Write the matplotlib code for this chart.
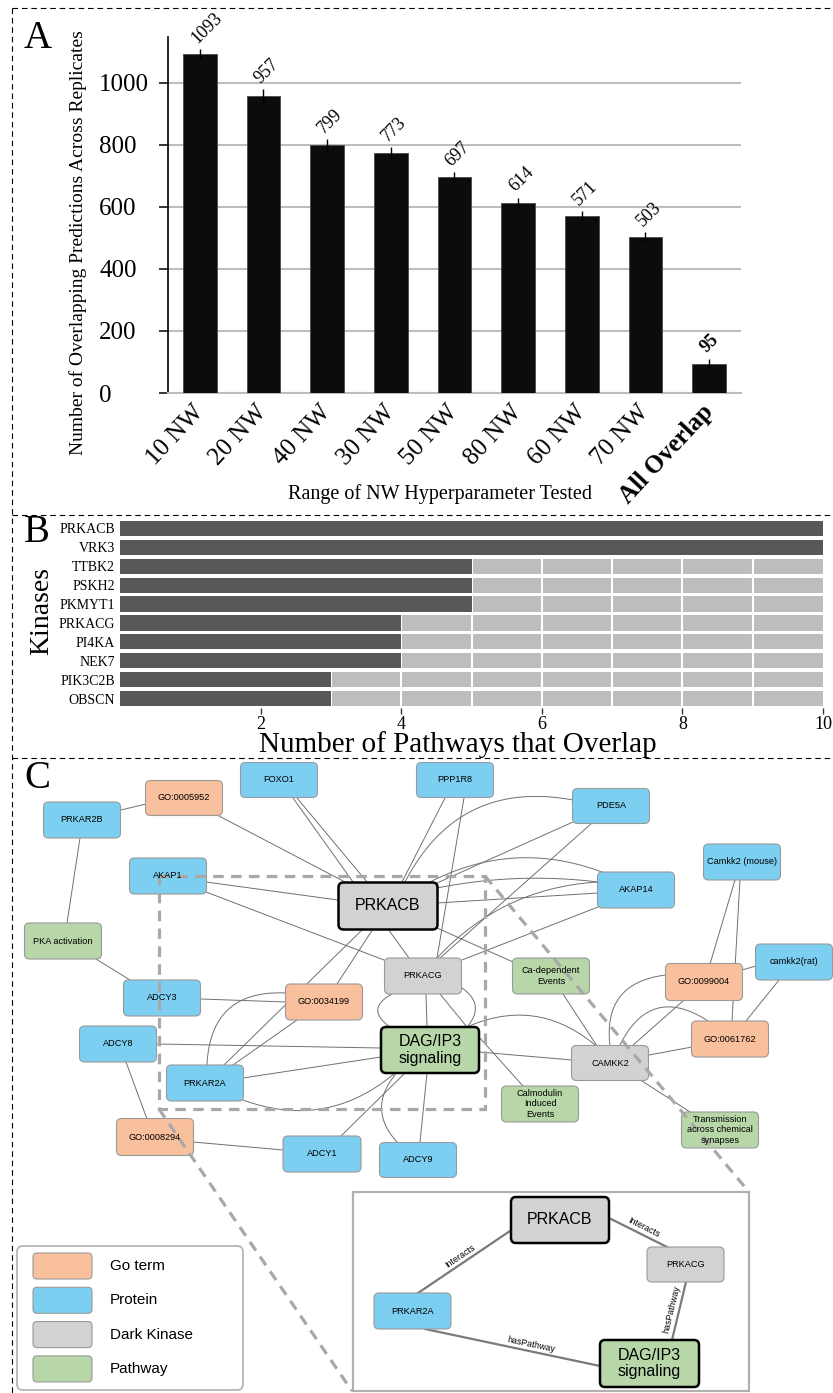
import numpy as np
import matplotlib
matplotlib.use("Agg")
import matplotlib.pyplot as plt
from matplotlib.patches import FancyBboxPatch, Rectangle

# ---------------------------------------------------------------- data
nw_ranges = ["10 NW", "20 NW", "40 NW", "30 NW", "50 NW", "80 NW", "60 NW", "70 NW", "All Overlap"]
overlap_counts = [1093, 957, 799, 773, 697, 614, 571, 503, 95]
overlap_errors = [16, 22, 19, 19, 16, 16, 16, 16, 16]
count_ticks = [0, 200, 400, 600, 800, 1000]

kinases = ["PRKACB", "VRK3", "TTBK2", "PSKH2", "PKMYT1", "PRKACG", "PI4KA", "NEK7", "PIK3C2B", "OBSCN"]
pathways_overlap = [10, 10, 5, 5, 5, 4, 4, 4, 3, 3]
max_pathways = 10
pathway_ticks = [2, 4, 6, 8, 10]

node_names = ["GO:0005952", "FOXO1", "PPP1R8", "PRKAR2B", "PDE5A", "AKAP1", "PRKACB",
              "Camkk2 (mouse)", "AKAP14", "PKA activation", "PRKACG", "Ca-dependent\nEvents",
              "camkk2(rat)", "GO:0099004", "ADCY3", "GO:0034199", "ADCY8", "DAG/IP3\nsignaling",
              "GO:0061762", "CAMKK2", "PRKAR2A", "Calmodulin\nInduced\nEvents",
              "Transmission\nacross chemical\nsynapses", "GO:0008294", "ADCY1", "ADCY9"]
node_kinds = ["go", "protein", "protein", "protein", "protein", "protein", "dark",
              "protein", "protein", "pathway", "dark", "pathway",
              "protein", "go", "protein", "go", "protein", "pathway",
              "go", "dark", "protein", "pathway",
              "pathway", "go", "protein", "protein"]
highlighted = ["PRKACB", "DAG/IP3\nsignaling"]

edges = [("PRKAR2B", "GO:0005952"), ("PRKAR2B", "PKA activation"), ("PKA activation", "ADCY3"),
         ("GO:0005952", "PRKACB"), ("FOXO1", "PRKACB"), ("FOXO1", "PRKACB"),
         ("PPP1R8", "PRKACB"), ("PPP1R8", "PRKACG"), ("PDE5A", "PRKACB"), ("PDE5A", "PRKACB"),
         ("PDE5A", "PRKACG"), ("AKAP14", "PRKACB"), ("AKAP14", "PRKACG"), ("AKAP14", "PRKACB"),
         ("AKAP14", "PRKACG"), ("AKAP1", "PRKACB"), ("AKAP1", "PRKACG"), ("PRKACB", "PRKAR2A"),
         ("PRKACB", "GO:0034199"), ("GO:0034199", "PRKAR2A"), ("GO:0034199", "PRKAR2A"),
         ("ADCY3", "GO:0034199"), ("PRKACB", "PRKACG"), ("PRKACB", "Ca-dependent\nEvents"),
         ("PRKACG", "DAG/IP3\nsignaling"), ("PRKACG", "DAG/IP3\nsignaling"),
         ("PRKACG", "DAG/IP3\nsignaling"), ("PRKACG", "DAG/IP3\nsignaling"),
         ("ADCY8", "DAG/IP3\nsignaling"), ("ADCY8", "GO:0008294"),
         ("PRKAR2A", "DAG/IP3\nsignaling"), ("PRKAR2A", "DAG/IP3\nsignaling"),
         ("DAG/IP3\nsignaling", "ADCY1"), ("DAG/IP3\nsignaling", "ADCY9"),
         ("DAG/IP3\nsignaling", "ADCY9"), ("GO:0008294", "ADCY1"),
         ("DAG/IP3\nsignaling", "CAMKK2"), ("DAG/IP3\nsignaling", "Calmodulin\nInduced\nEvents"),
         ("DAG/IP3\nsignaling", "CAMKK2"), ("Ca-dependent\nEvents", "CAMKK2"),
         ("CAMKK2", "GO:0099004"), ("CAMKK2", "GO:0099004"), ("CAMKK2", "GO:0061762"),
         ("CAMKK2", "GO:0061762"), ("CAMKK2", "Transmission\nacross chemical\nsynapses"),
         ("Camkk2 (mouse)", "GO:0099004"), ("Camkk2 (mouse)", "GO:0061762"),
         ("camkk2(rat)", "GO:0099004"), ("camkk2(rat)", "GO:0061762"), ("PRKACB", "AKAP14")]

inset_names = ["PRKACB", "PRKACG", "PRKAR2A", "DAG/IP3\nsignaling"]
inset_kinds = ["dark", "dark", "protein", "pathway"]
inset_edges = [("PRKAR2A", "PRKACB", "Interacts"), ("PRKACB", "PRKACG", "Interacts"),
               ("PRKACG", "DAG/IP3\nsignaling", "hasPathway"),
               ("PRKAR2A", "DAG/IP3\nsignaling", "hasPathway")]

legend_labels = ["Go term", "Protein", "Dark Kinase", "Pathway"]
legend_kinds = ["go", "protein", "dark", "pathway"]

# ---------------------------------------------------------------- styling / layout
kind_colors = {"go": "#f9c09e", "protein": "#7dcff2", "dark": "#d1d2d4", "pathway": "#b7d7a9"}
SERIF = "Liberation Serif"
SANS = "Liberation Sans"
plt.rcParams["font.family"] = [SERIF, "DejaVu Serif"]

W, H = 833, 1393

# node boxes: centre x, centre y, width, height (pixels)
node_layout = {
    "GO:0005952": (184, 798, 77, 35), "FOXO1": (279, 780, 77, 35), "PPP1R8": (455, 780, 77, 35),
    "PRKAR2B": (82, 820, 77, 36), "PDE5A": (611, 806, 77, 35), "AKAP1": (168, 876, 77, 36),
    "PRKACB": (388, 906, 99, 47), "Camkk2 (mouse)": (742, 862, 77, 36), "AKAP14": (636, 890, 77, 36),
    "PKA activation": (63, 941, 77, 36), "PRKACG": (423, 976, 77, 36),
    "Ca-dependent\nEvents": (551, 976, 77, 36), "camkk2(rat)": (794, 962, 77, 36),
    "GO:0099004": (704, 982, 77, 37), "ADCY3": (162, 998, 77, 36), "GO:0034199": (324, 1002, 77, 36),
    "ADCY8": (118, 1044, 77, 36), "DAG/IP3\nsignaling": (430, 1050, 98, 46),
    "GO:0061762": (730, 1039, 77, 36), "CAMKK2": (610, 1063, 77, 35), "PRKAR2A": (205, 1083, 77, 36),
    "Calmodulin\nInduced\nEvents": (540, 1104, 77, 36),
    "Transmission\nacross chemical\nsynapses": (720, 1130, 77, 36),
    "GO:0008294": (155, 1137, 77, 37), "ADCY1": (322, 1154, 78, 36), "ADCY9": (418, 1160, 77, 35),
}
# per-edge attachment offsets from each node centre and arc bend
edge_geometry = [
    (39, -10, -38, 6, 0), (-2, 18, 4, -18, 0), (33, 18, -32, -18, 0),
    (35, 18, -43, -24, 0), (14, 18, -35, -24, 0), (18, 18, -21, -24, 0),
    (-10, 18, 14, -24, 0), (9, 18, 14, -18, 0), (-38, -6, 17, -24, 0.37), (-38, 16, 49, -23, 0),
    (-19, 17, 17, -18, 0), (-34, -18, 42, -24, 0.22), (-38, -8, 14, -18, 0.2), (-38, 3, 49, -3, 0),
    (-38, 17, 39, -16, 0), (38, 6, -50, -6, 0), (38, 16, -39, -16, 0), (-25, 23, 19, -18, 0),
    (-15, 23, 13, -18, 0), (-27, 18, 28, -18, 0), (-38, -9, 2, -18, 0.5),
    (39, 1, -38, 0, 0), (0, 23, -14, -18, 0), (49, 22, -38, -14, 0),
    (3, 18, -3, -23, 0), (17, 18, 37, -23, 0),
    (-31, 18, -40, -23, 0.8), (39, 12, 37, -23, -0.55),
    (39, 0, -49, -2, 0), (8, 18, -8, -18, 0),
    (38, -5, -49, 7, 0), (38, 17, -35, 23, 0.29),
    (-25, 23, 19, -18, 0), (-3, 23, 2, -18, 0),
    (-35, 25, -21, -18, 0.43), (38, 5, -39, -4, 0),
    (49, 2, -38, -3, 0), (49, -13, -17, -18, 0),
    (37, -23, -15, -18, -0.31), (12, 18, -13, -17, 0),
    (22, -17, -21, 19, 0), (0, -17, -38, -7, -0.5), (39, -8, -38, 8, 0),
    (10, -18, -22, -18, -0.56), (32, 18, -30, -18, 0),
    (-7, 18, 6, -18, 0), (-2, 18, 2, -18, 0),
    (-38, 4, 38, -12, 0), (-15, 18, 16, -18, 0), (49, -18, -38, -8, -0.08),
]
inset_layout = {"PRKACB": (560, 1220, 98, 46), "PRKACG": (685.5, 1264.5, 77, 35),
                "PRKAR2A": (412.5, 1311, 77, 36), "DAG/IP3\nsignaling": (649.5, 1363.5, 99, 47)}
inset_geometry = [(5.5, -18, -50, 11, 0.5), (49, -2, -18.5, -17.5, 0.55),
                  (0.5, 17.5, 22.5, -23.5, 0.5), (12.5, 18, -49.5, 2.5, 0.6)]

fig = plt.figure(figsize=(W / 100, H / 100), dpi=100)
canvas = fig.add_axes([0, 0, 1, 1])
canvas.set_xlim(0, W)
canvas.set_ylim(H, 0)
canvas.axis("off")


def frac_box(x0, y0, x1, y1):
    return [x0 / W, 1 - y1 / H, (x1 - x0) / W, (y1 - y0) / H]


# dashed panel frames
frame_kw = dict(color="black", lw=0.8, ls=(0, (5, 3.5)), zorder=1)
canvas.plot([12, W], [8, 8], **frame_kw)
canvas.plot([12, 12], [8, H], **frame_kw)
canvas.plot([12, W], [515, 515], **frame_kw)
canvas.plot([12, W], [758, 758], **frame_kw)

# ---------------------------------------------------------------- panel A
axA = fig.add_axes(frac_box(168, 37, 741, 393))
axA.set_facecolor("none")
xs = np.arange(len(nw_ranges))
axA.bar(xs, overlap_counts, width=0.53, color="#0b0c0b", edgecolor="#4a4a4a", linewidth=0.6,
        yerr=overlap_errors, error_kw=dict(ecolor="black", elinewidth=1.0, capsize=0), zorder=3)
axA.set_xlim(-0.5, len(xs) - 0.5)
axA.set_ylim(0, 1148)
axA.set_yticks(count_ticks)
axA.yaxis.grid(True, color="#bdbdbd", lw=1.5)
axA.set_axisbelow(True)
for s in ("top", "right"):
    axA.spines[s].set_visible(False)
axA.spines["left"].set_color("black")
axA.spines["left"].set_linewidth(1.2)
axA.spines["bottom"].set_color("#bdbdbd")
axA.spines["bottom"].set_linewidth(1.5)
# tick numbers are left-aligned in a column left of the axis
axA.tick_params(axis="y", length=6.5, width=1.1, pad=43, labelsize=18)
for lbl in axA.get_yticklabels():
    lbl.set_horizontalalignment("left")
axA.tick_params(axis="x", length=0, pad=11, labelsize=18)
axA.set_xticks(xs)
axA.set_xticklabels(nw_ranges, rotation=47, ha="right", va="center", rotation_mode="anchor")
axA.get_xticklabels()[-1].set_fontweight("bold")
for xi, v, e in zip(xs, overlap_counts, overlap_errors):
    axA.text(xi, v + e + 8, str(v), rotation=45, rotation_mode="anchor", ha="left", va="bottom",
             fontsize=13, fontweight="bold" if xi == len(xs) - 1 else "normal")

canvas.text(38, 38, "A", fontsize=28, ha="center", va="center")
canvas.text(78, 243, "Number of Overlapping Predictions Across Replicates", rotation=90,
            fontsize=14, ha="center", va="center")
canvas.text(440, 494, "Range of NW Hyperparameter Tested", fontsize=14.5, ha="center", va="center")

# ---------------------------------------------------------------- panel B
axB = fig.add_axes(frac_box(120, 519, 823, 708))
axB.set_facecolor("none")
rows = np.arange(len(kinases))
remaining = [max_pathways - v for v in pathways_overlap]
axB.barh(rows, remaining, left=pathways_overlap, height=0.8, color="#bdbdbf", zorder=1)
for k in range(1, max_pathways):
    axB.axvline(k, color="white", lw=1.5, zorder=2)
axB.barh(rows, pathways_overlap, height=0.8, color="#58585a", zorder=3)
axB.set_xlim(0, max_pathways)
axB.set_ylim(len(kinases) - 0.5, -0.5)
axB.set_yticks(rows)
axB.set_yticklabels(kinases, fontsize=10)
axB.set_xticks(pathway_ticks)
axB.tick_params(axis="y", length=0, pad=3.5)
axB.tick_params(axis="x", length=4, width=1, pad=2, labelsize=13, color="#333333")
for s in axB.spines.values():
    s.set_visible(False)

canvas.text(37, 533, "B", fontsize=28, ha="center", va="center")
canvas.text(42, 611, "Kinases", rotation=90, fontsize=20, ha="center", va="center")
canvas.text(458, 745, "Number of Pathways that Overlap", fontsize=21, ha="center", va="center")

# ---------------------------------------------------------------- panel C
canvas.text(37, 778, "C", fontsize=28, ha="center", va="center")


def curve(p0, p1, rad, n=60):
    p0 = np.asarray(p0, float)
    p1 = np.asarray(p1, float)
    d = p1 - p0
    ctrl = (p0 + p1) / 2 + rad * np.array([-d[1], d[0]])
    t = np.linspace(0, 1, n)[:, None]
    return (1 - t) ** 2 * p0 + 2 * (1 - t) * t * ctrl + t ** 2 * p1


def draw_node(name, kind, cx, cy, w, h, big):
    canvas.add_patch(FancyBboxPatch((cx - w / 2, cy - h / 2), w, h,
                                    boxstyle="round,pad=0,rounding_size=5",
                                    fc=kind_colors[kind], ec="black" if big else "#9a9a9a",
                                    lw=1.8 if big else 0.8, zorder=3))
    canvas.text(cx, cy, name, ha="center", va="center", family=SANS,
                fontsize=11.5 if big else 6.6, linespacing=1.15 if not big else 1.1, zorder=6)


for (a, b), (dxa, dya, dxb, dyb, rad) in zip(edges, edge_geometry):
    ax_, ay_ = node_layout[a][:2]
    bx_, by_ = node_layout[b][:2]
    pts = curve((ax_ + dxa, ay_ + dya), (bx_ + dxb, by_ + dyb), rad)
    canvas.plot(pts[:, 0], pts[:, 1], color="#707070", lw=0.7, zorder=2)

for name, kind in zip(node_names, node_kinds):
    cx, cy, w, h = node_layout[name]
    draw_node(name, kind, cx, cy, w, h, name in highlighted)

# zoom guides
guide_kw = dict(color="#a8a8a8", lw=2.3, ls=(0, (3.3, 2.3)), zorder=5)
canvas.add_patch(Rectangle((159, 876), 326, 233, fill=False, ec="#a8a8a8", lw=2.3,
                           ls=(0, (3.3, 2.3)), zorder=5))
canvas.plot([159, 352], [1109, 1391], **guide_kw)
canvas.plot([485, 749], [876, 1192], **guide_kw)

# inset
canvas.add_patch(Rectangle((353, 1192), 396, 199, fill=False, ec="#b0b0b0", lw=1.6, zorder=2))
for (a, b, lab), (dxa, dya, dxb, dyb, t) in zip(inset_edges, inset_geometry):
    ax_, ay_ = inset_layout[a][:2]
    bx_, by_ = inset_layout[b][:2]
    p0 = np.array([ax_ + dxa, ay_ + dya])
    p1 = np.array([bx_ + dxb, by_ + dyb])
    canvas.plot([p0[0], p1[0]], [p0[1], p1[1]], color="#7a7a7a", lw=1.6, zorder=2)
    ang = np.degrees(np.arctan2(-(p1[1] - p0[1]), p1[0] - p0[0]))
    if ang > 90:
        ang -= 180
    elif ang <= -90:
        ang += 180
    th = np.radians(ang)
    pos = p0 + t * (p1 - p0) + 7 * np.array([-np.sin(th), -np.cos(th)])
    canvas.text(pos[0], pos[1], lab, rotation=ang, rotation_mode="anchor", ha="center",
                va="center", family=SANS, fontsize=6.4, zorder=4)
for name, kind in zip(inset_names, inset_kinds):
    cx, cy, w, h = inset_layout[name]
    draw_node(name, kind, cx, cy, w, h, name in highlighted)

# legend
canvas.add_patch(FancyBboxPatch((17, 1246), 226, 144, boxstyle="round,pad=0,rounding_size=6",
                                fc="white", ec="#b5b5b5", lw=1.3, zorder=2))
for i, (lab, kind) in enumerate(zip(legend_labels, legend_kinds)):
    cy = 1266 + i * 34.3
    canvas.add_patch(FancyBboxPatch((33, cy - 13), 59, 26, boxstyle="round,pad=0,rounding_size=4",
                                    fc=kind_colors[kind], ec="#9a9a9a", lw=0.8, zorder=3))
    canvas.text(110, cy, lab, ha="left", va="center", family=SANS, fontsize=11, zorder=4)

fig.savefig("out.png", dpi=100)
